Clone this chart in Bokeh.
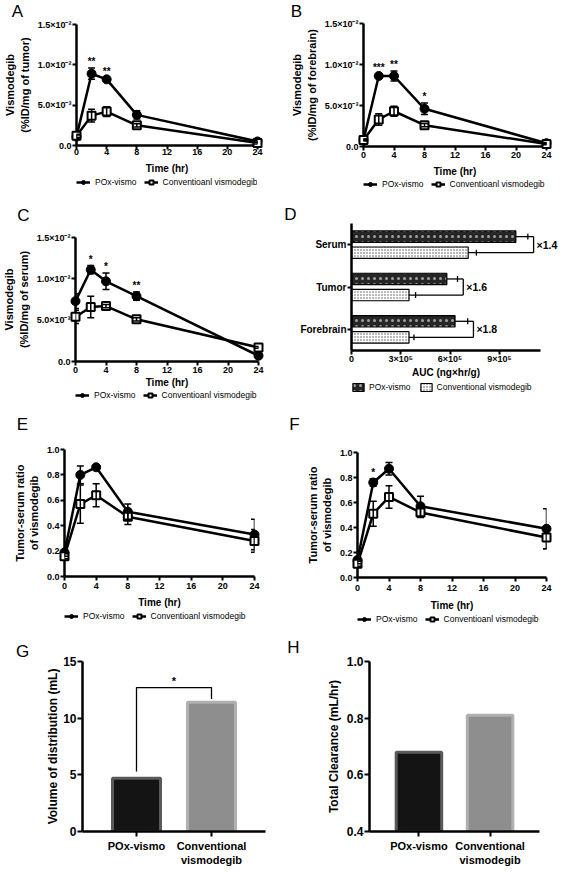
import math
from bokeh.plotting import figure
from bokeh.layouts import column, row
from bokeh.models import (ColumnDataSource, Range1d, FactorRange, FixedTicker,
                          Whisker, TeeHead, Legend, LegendItem)
from bokeh.transform import dodge, factor_cmap
from bokeh.core.properties import value
from bokeh.embed import file_html
from bokeh.resources import INLINE

# ---------------- data ----------------
times = [0, 2, 4, 8, 24]
time_ticks = [0, 4, 8, 12, 16, 20, 24]
series_labels = ["POx-vismo", "Conventioanl vismodegib"]

conc_ticks = [0, 0.005, 0.01, 0.015]
conc_tick_labels = ["0.0", "5.0×10⁻³", "1.0×10⁻²", "1.5×10⁻²"]

tumor_pox = [0.0011, 0.0089, 0.0082, 0.0038, 0.0005]
tumor_pox_err = [0.0002, 0.0007, 0.0002, 0.0005, 0.0001]
tumor_conv = [0.0012, 0.0037, 0.0042, 0.0025, 0.0003]
tumor_conv_err = [0.0002, 0.0008, 0.0006, 0.0002, 0.0001]
tumor_sig = ["", "**", "**", "", ""]

forebrain_pox = [0.0008, 0.0086, 0.0086, 0.0046, 0.0004]
forebrain_pox_err = [0.0001, 0.0002, 0.0006, 0.0007, 0.0001]
forebrain_conv = [0.0008, 0.0033, 0.0043, 0.0026, 0.0003]
forebrain_conv_err = [0.0001, 0.0007, 0.0006, 0.0002, 0.0001]
forebrain_sig = ["", "***", "**", "*", ""]

serum_pox = [0.0073, 0.0111, 0.0097, 0.0079, 0.0007]
serum_pox_err = [0.0009, 0.0005, 0.0010, 0.0005, 0.0001]
serum_conv = [0.0054, 0.0066, 0.0067, 0.0051, 0.0017]
serum_conv_err = [0.0008, 0.0013, 0.0002, 0.0002, 0.0001]
serum_sig = ["", "*", "*", "**", ""]

auc_tissues = ["Forebrain", "Tumor", "Serum"]
auc_pox = [6.3e5, 5.8e5, 1.0e6]
auc_pox_err = [0.77e5, 0.65e5, 0.73e5]
auc_conv = [3.5e5, 3.5e5, 7.1e5]
auc_conv_err = [0.30e5, 0.40e5, 0.50e5]
auc_fold = ["×1.8", "×1.6", "×1.4"]
auc_ticks = [0, 300000, 600000, 900000]
auc_tick_labels = ["0", "3×10⁵", "6×10⁵", "9×10⁵"]
auc_legend = ["POx-vismo", "Conventional vismodegib"]

ratio_ticks = [0, 0.2, 0.4, 0.6, 0.8, 1.0]
ratio_tick_labels = ["0.0", "0.2", "0.4", "0.6", "0.8", "1.0"]
ratioE_pox = [0.19, 0.80, 0.86, 0.51, 0.33]
ratioE_pox_err = [0.03, 0.07, 0.01, 0.06, 0.12]
ratioE_conv = [0.16, 0.57, 0.64, 0.47, 0.28]
ratioE_conv_err = [0.02, 0.15, 0.09, 0.06, 0.09]
ratioE_sig = ["", "", "", "", ""]

ratioF_pox = [0.14, 0.76, 0.87, 0.57, 0.39]
ratioF_pox_err = [0.03, 0.03, 0.05, 0.08, 0.16]
ratioF_conv = [0.11, 0.51, 0.645, 0.52, 0.32]
ratioF_conv_err = [0.02, 0.10, 0.09, 0.04, 0.09]
ratioF_sig = ["", "*", "", "", ""]

groups = ["POx-vismo", "Conventional\nvismodegib"]
vd_values = [4.7, 11.4]
vd_ticks = [0, 5, 10, 15]
vd_tick_labels = ["0", "5", "10", "15"]
vd_sig = "*"
cl_values = [0.68, 0.81]
cl_ticks = [0.4, 0.6, 0.8, 1.0]
cl_tick_labels = ["0.4", "0.6", "0.8", "1.0"]

# ---------------- layout helpers ----------------
FONT = "Liberation Sans"
FIG_W = 281
COL_X = [0, 281]
ROW_Y = [0, 197, 400, 632]
ROW_H = [197, 203, 232, 241]
TICK_H = 10.4    # approx. height of a 9px tick label
TITLE_H = 11.5   # approx. height of a 10px axis title


def geo(col, rw, L, R, T, B):
    x0, y0 = COL_X[col], ROW_Y[rw]
    return dict(x0=x0, y0=y0, H=ROW_H[rw], fl=L - x0, fr=R - x0, ft=T - y0, fb=B - y0)


def make_fig(g, height, **kw):
    p = figure(width=FIG_W, height=height, min_border_left=g["fl"],
               min_border_right=FIG_W - g["fr"], min_border_top=g["ft"],
               min_border_bottom=height - g["fb"], toolbar_location=None,
               output_backend="svg", **kw)
    p.outline_line_color = None
    p.grid.visible = False
    p.background_fill_color = "white"
    p.border_fill_color = "white"
    return p


def style_axes(p, tick_size="9px", xtitle_size="10px", ytitle_size="11px", tick_out=4):
    for ax in p.axis:
        ax.axis_line_width = 2.5
        ax.axis_line_color = "black"
        ax.major_tick_line_width = 2
        ax.major_tick_line_color = "black"
        ax.major_tick_out = tick_out
        ax.major_tick_in = 0
        ax.minor_tick_line_color = None
        ax.major_label_text_font = FONT
        ax.major_label_text_font_style = "bold"
        ax.major_label_text_font_size = tick_size
        ax.major_label_text_color = "black"
        ax.axis_label_text_font = FONT
        ax.axis_label_text_font_style = "bold"
        ax.axis_label_text_color = "black"
    p.xaxis.axis_label_text_font_size = xtitle_size
    p.yaxis.axis_label_text_font_size = ytitle_size


def add_letter(p, g, letter, at, anchor_x, anchor_y):
    # anchored at the top-left corner of the frame, shifted in screen pixels
    dx = (at[0] - g["x0"]) - g["fl"]
    dy = (at[1] - g["y0"]) - g["ft"]
    p.text(x=[anchor_x], y=[anchor_y], text=[letter], x_offset=dx, y_offset=dy,
           text_align="center", text_baseline="middle", text_font=value(FONT),
           text_font_size="17px", text_color="black", level="overlay")


def split_heights(g, ext, legend_at, leg_h):
    """height of the plot figure and of the legend strip below it"""
    H = g["H"]
    s = min(g["fb"] + math.ceil(ext), H - leg_h)
    top_in = max(0, (legend_at[1] - g["y0"]) - leg_h / 2 - s)
    vx = legend_at[0] - g["x0"]
    return s, H - s, vx, top_in


def legend_fig(height, vx, top_in, build_items, font_size, glyph_w, spacing, standoff):
    lf = figure(width=FIG_W, height=height, min_border_left=round(vx),
                min_border_top=round(top_in), min_border_right=0, min_border_bottom=0,
                x_axis_type=None, y_axis_type=None, x_range=Range1d(0, 1),
                y_range=Range1d(0, 1), toolbar_location=None, output_backend="svg")
    lf.outline_line_color = None
    lf.background_fill_color = "white"
    lf.border_fill_color = "white"
    leg = Legend(items=build_items(lf), orientation="horizontal", location="top_left",
                 padding=0, margin=0, spacing=spacing, border_line_color=None,
                 background_fill_alpha=0, glyph_width=glyph_w, glyph_height=10,
                 label_height=10, label_width=10, label_standoff=standoff,
                 label_text_font=FONT, label_text_font_size=font_size,
                 label_text_color="black")
    lf.add_layout(leg)
    return lf


# legend swatch renderers: one point placed outside the strip's visible range
HIDDEN_X = [-2, -1]
HIDDEN_Y = [-1, -1]


def series_items(lf):
    l1 = lf.line(x=HIDDEN_X, y=HIDDEN_Y, line_color="black", line_width=2.5)
    s1 = lf.scatter(x=HIDDEN_X[:1], y=HIDDEN_Y[:1], marker="circle", size=9,
                    fill_color="black", line_color="black")
    l2 = lf.line(x=HIDDEN_X, y=HIDDEN_Y, line_color="black", line_width=2.5)
    s2 = lf.scatter(x=HIDDEN_X[:1], y=HIDDEN_Y[:1], marker="square", size=8,
                    fill_color="white", line_color="black", line_width=2)
    return [LegendItem(label=series_labels[0], renderers=[l1, s1]),
            LegendItem(label=series_labels[1], renderers=[l2, s2])]


def time_panel(col, rw, frame, ymax, yticks, ytick_labels, ytitle, pox, pox_err, conv,
               conv_err, sig, letter, letter_at, legend_at, lab_standoff, title_standoff):
    g = geo(col, rw, *frame)
    ext = 4 + lab_standoff + TICK_H + title_standoff + TITLE_H
    s, hl, vx, top_in = split_heights(g, ext, legend_at, 10)
    p = make_fig(g, s, x_range=Range1d(0, 24), y_range=Range1d(0, ymax))
    src = ColumnDataSource(dict(
        t=times, pox=pox, conv=conv,
        pox_lo=[v - e for v, e in zip(pox, pox_err)],
        pox_hi=[v + e for v, e in zip(pox, pox_err)],
        conv_lo=[v - e for v, e in zip(conv, conv_err)],
        conv_hi=[v + e for v, e in zip(conv, conv_err)],
        sig=sig,
        sig_y=[max(a + ea, b + eb) for a, ea, b, eb in zip(pox, pox_err, conv, conv_err)],
    ))
    for lo, hi in (("pox_lo", "pox_hi"), ("conv_lo", "conv_hi")):
        p.add_layout(Whisker(source=src, base="t", lower=lo, upper=hi, line_color="black",
                             line_width=1.5, level="overlay",
                             upper_head=TeeHead(size=7, line_width=1.5, line_color="black"),
                             lower_head=TeeHead(size=7, line_width=1.5, line_color="black")))
    p.line("t", "pox", source=src, line_color="black", line_width=2.5)
    p.line("t", "conv", source=src, line_color="black", line_width=2.5)
    p.scatter("t", "pox", source=src, marker="circle", size=9, fill_color="black",
              line_color="black", level="overlay")
    p.scatter("t", "conv", source=src, marker="square", size=8, fill_color="white",
              line_color="black", line_width=2, level="overlay")
    p.text("t", "sig_y", text="sig", source=src, text_align="center", text_baseline="bottom",
           text_font=value(FONT), text_font_style="bold", text_font_size="10px",
           text_color="black", y_offset=-1, level="overlay")

    style_axes(p)
    p.xaxis.ticker = FixedTicker(ticks=time_ticks)
    p.yaxis.ticker = FixedTicker(ticks=yticks)
    p.yaxis.major_label_overrides = dict(zip(yticks, ytick_labels))
    p.xaxis.axis_label = "Time (hr)"
    p.yaxis.axis_label = ytitle
    p.xaxis.major_label_standoff = lab_standoff
    p.xaxis.axis_label_standoff = title_standoff
    p.yaxis.major_label_standoff = 1
    p.yaxis.axis_label_standoff = 4
    add_letter(p, g, letter, letter_at, 0, ymax)

    lf = legend_fig(hl, vx, top_in, series_items, "8.5px", 14, 7, 5)
    return column(p, lf)


pA = time_panel(0, 0, (76, 257, 24, 146), 0.015, conc_ticks, conc_tick_labels,
                "Vismodegib\n(%ID/mg of tumor)", tumor_pox, tumor_pox_err, tumor_conv,
                tumor_conv_err, tumor_sig, "A", (17, 11), (75, 182), -1, 5)
pB = time_panel(1, 0, (358, 546, 23, 147), 0.015, conc_ticks, conc_tick_labels,
                "Vismodegib\n(%ID/mg of forebrain)", forebrain_pox, forebrain_pox_err,
                forebrain_conv, forebrain_conv_err, forebrain_sig, "B", (291, 11), (363, 183), 1, 5)
pC = time_panel(0, 1, (71, 258, 237, 362), 0.015, conc_ticks, conc_tick_labels,
                "Vismodegib\n(%ID/mg of serum)", serum_pox, serum_pox_err, serum_conv,
                serum_conv_err, serum_sig, "C", (19, 215), (72, 394), 1, 1)
pE = time_panel(0, 2, (61, 254, 449, 577), 1.0, ratio_ticks, ratio_tick_labels,
                "Tumor-serum ratio\nof vismodegib", ratioE_pox, ratioE_pox_err, ratioE_conv,
                ratioE_conv_err, ratioE_sig, "E", (19, 424), (64, 616), 2, 5)
pF = time_panel(1, 2, (354, 546, 452, 578), 1.0, ratio_ticks, ratio_tick_labels,
                "Tumor-serum ratio\nof vismodegib", ratioF_pox, ratioF_pox_err, ratioF_conv,
                ratioF_conv_err, ratioF_sig, "F", (291, 424), (357, 619), 3, 6)

# ---------------- panel D ----------------
gD = geo(1, 1, 351, 540, 223, 355)
sD, hlD, vxD, topD = split_heights(gD, 4 - 1 + TICK_H + 0 + TITLE_H, (343, 387), 11)
pD = make_fig(gD, sD, x_range=Range1d(0, 1.15e6), y_range=FactorRange(factors=auc_tissues))
pox_up = [v + e for v, e in zip(auc_pox, auc_pox_err)]
conv_up = [v + e for v, e in zip(auc_conv, auc_conv_err)]
srcD = ColumnDataSource(dict(
    tissue=auc_tissues, pox=auc_pox, conv=auc_conv, pox_up=pox_up, conv_up=conv_up,
    bx=[max(a, b) + 3.5e4 for a, b in zip(pox_up, conv_up)], fold=auc_fold))
OFF, BH, CAP = 0.19, 0.27, 0.07
POX_BAR = dict(fill_color="#262626", hatch_pattern="dot", hatch_color="#a0a0a0",
               hatch_scale=6, hatch_weight=3, line_color="black", line_width=1.2)
CONV_BAR = dict(fill_color="white", hatch_pattern="dot", hatch_color="#505050",
                hatch_scale=3, hatch_weight=1, line_color="black", line_width=1.2)
yr = pD.y_range
pD.hbar(y=dodge("tissue", OFF, range=yr), right="pox", height=BH, source=srcD, **POX_BAR)
pD.hbar(y=dodge("tissue", -OFF, range=yr), right="conv", height=BH, source=srcD, **CONV_BAR)
for off, start, up in ((OFF, "pox", "pox_up"), (-OFF, "conv", "conv_up")):
    pD.segment(x0=start, y0=dodge("tissue", off, range=yr), x1="bx",
               y1=dodge("tissue", off, range=yr), source=srcD, line_color="black",
               line_width=1.3, level="overlay")
    pD.segment(x0=up, y0=dodge("tissue", off - CAP, range=yr), x1=up,
               y1=dodge("tissue", off + CAP, range=yr), source=srcD, line_color="black",
               line_width=1.3, level="overlay")
pD.segment(x0="bx", y0=dodge("tissue", OFF, range=yr), x1="bx",
           y1=dodge("tissue", -OFF, range=yr), source=srcD, line_color="black",
           line_width=1.3, level="overlay")
pD.text(x="bx", y="tissue", text="fold", source=srcD, x_offset=3, text_align="left",
        text_baseline="middle", text_font=value(FONT), text_font_style="bold",
        text_font_size="10.5px", text_color="black", level="overlay")
style_axes(pD, tick_size="9px", xtitle_size="10px")
pD.yaxis.major_label_text_font_size = "10px"
pD.xaxis.ticker = FixedTicker(ticks=auc_ticks)
pD.xaxis.major_label_overrides = dict(zip(auc_ticks, auc_tick_labels))
pD.xaxis.axis_label = "AUC (ng×hr/g)"
pD.xaxis.major_label_standoff = -1
pD.xaxis.axis_label_standoff = 0
pD.yaxis.major_label_standoff = 1
add_letter(pD, gD, "D", (290, 214), 0, (auc_tissues[-1], 0.5))


def auc_items(lf):
    r1 = lf.hbar(y=HIDDEN_Y[:1], right=HIDDEN_X[:1], height=0.5, **POX_BAR)
    r2 = lf.hbar(y=HIDDEN_Y[:1], right=HIDDEN_X[:1], height=0.5, **CONV_BAR)
    return [LegendItem(label=auc_legend[0], renderers=[r1]),
            LegendItem(label=auc_legend[1], renderers=[r2])]


lD = legend_fig(hlD, vxD, topD, auc_items, "8.5px", 14, 8, 4)
colD = column(pD, lD)


# ---------------- panels G and H ----------------
def bar_panel(col, frame, pad, yrange, yticks, ytick_labels, vals, ytitle, letter, letter_at,
              title_standoff, sig=None):
    g = geo(col, 3, *frame)
    p = make_fig(g, g["H"], x_range=FactorRange(factors=groups, range_padding=pad),
                 y_range=Range1d(*yrange))
    src = ColumnDataSource(dict(cat=groups, val=vals))
    p.vbar(x="cat", top="val", width=0.64, source=src,
           fill_color=factor_cmap("cat", ["#141414", "#8e8e8e"], groups),
           line_color=factor_cmap("cat", ["#5a5a5a", "#b0b0b0"], groups), line_width=3)
    if sig:
        top = max(vals) + 1.3
        p.multi_line(xs=[[groups[0], groups[0], groups[1], groups[1]]],
                     ys=[[vals[0] + 0.6, top, top, vals[1] + 0.3]],
                     line_color="black", line_width=1.3)
        p.text(x=[(groups[0], 0.5)], y=[top], text=[sig], text_align="center",
               text_baseline="bottom", text_font=value(FONT), text_font_style="bold",
               text_font_size="11px", text_color="black", y_offset=-1, level="overlay")
    style_axes(p, tick_size="12px", ytitle_size="12px", tick_out=5)
    p.xaxis.major_label_text_font_size = "11px"
    p.xaxis.major_label_standoff = 3
    p.yaxis.ticker = FixedTicker(ticks=yticks)
    p.yaxis.major_label_overrides = dict(zip(yticks, ytick_labels))
    p.yaxis.major_label_standoff = 1
    p.yaxis.axis_label = ytitle
    p.yaxis.axis_label_standoff = title_standoff
    add_letter(p, g, letter, letter_at, (groups[0], -0.5 - pad), yrange[1])
    return p


pG = bar_panel(0, (82, 265, 658, 835), 0.22, (0, 15), vd_ticks, vd_tick_labels, vd_values,
               "Volume of distribution (mL)", "G", (22, 648), 0, sig=vd_sig)
pH = bar_panel(1, (369, 539, 661, 831), 0.195, (0.4, 1.0), cl_ticks, cl_tick_labels,
               cl_values, "Total Clearance (mL/hr)", "H", (293, 647), 3)

layout = column(row(pA, pB), row(pC, colD), row(pE, pF), row(pG, pH))
open("out.html", "w").write(file_html(layout, INLINE))
